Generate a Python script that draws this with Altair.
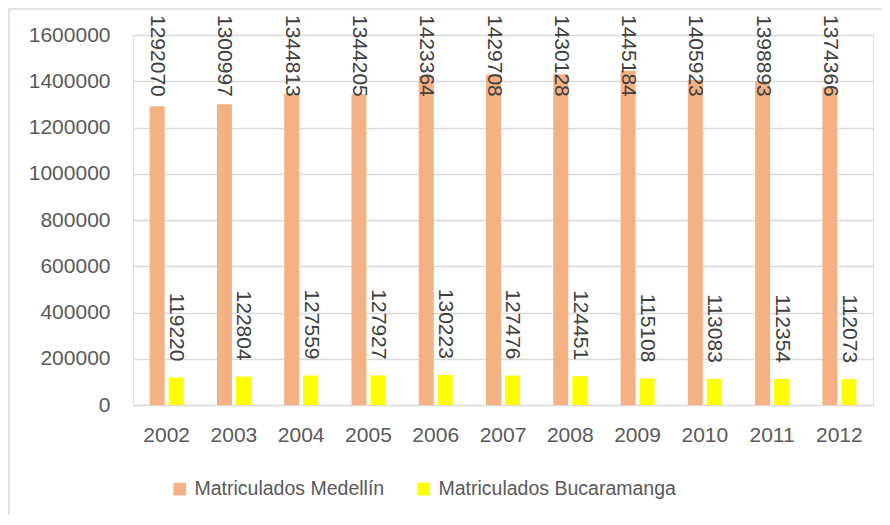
import altair as alt
import pandas as pd

years = ["2002", "2003", "2004", "2005", "2006", "2007", "2008", "2009", "2010", "2011", "2012"]
series_names = ["Matriculados Medellín", "Matriculados Bucaramanga"]
medellin = [1292070, 1300997, 1344813, 1344205, 1423364, 1429708, 1430128, 1445184, 1405923, 1398893, 1374366]
bucaramanga = [119220, 122804, 127559, 127927, 130223, 127476, 124451, 115108, 113083, 112354, 112073]
colors = ["#F4B183", "#FFFF00"]
y_ticks = [0, 200000, 400000, 600000, 800000, 1000000, 1200000, 1400000, 1600000]

rows = []
for i, y in enumerate(years):
    rows.append({"year": y, "series": series_names[0], "value": medellin[i]})
    rows.append({"year": y, "series": series_names[1], "value": bucaramanga[i]})
df = pd.DataFrame(rows)

FONT = "Liberation Sans"
W, H = 740, 370
PAD = {"left": 125, "top": 27, "right": 9, "bottom": 110}

x_enc = alt.X("year:N", sort=years, title=None,
              scale=alt.Scale(paddingInner=0.495, paddingOuter=0.2475),
              axis=alt.Axis(labelAngle=0, labelFontSize=21, labelColor="#595959",
                            labelFont=FONT, labelPadding=19, ticks=False, domain=False))
xoff_enc = alt.XOffset("series:N", sort=series_names,
                       scale=alt.Scale(domain=series_names, paddingInner=0.21))

bars = alt.Chart(df).mark_bar().encode(
    x=x_enc,
    xOffset=xoff_enc,
    y=alt.Y("value:Q", title=None,
            scale=alt.Scale(domain=[0, 1600000], nice=False),
            axis=alt.Axis(values=y_ticks, format="d", labelFontSize=21, labelColor="#595959",
                          labelFont=FONT, labelPadding=23, ticks=False, domain=False,
                          gridColor="#d9d9d9", gridWidth=1.3)),
    color=alt.Color("series:N", sort=series_names,
                    scale=alt.Scale(domain=series_names, range=colors),
                    legend=alt.Legend(title=None, orient="none", direction="horizontal",
                                      legendX=37, legendY=444, symbolType="square",
                                      symbolSize=160, symbolStrokeWidth=0,
                                      labelFontSize=19.5, labelFont=FONT, labelColor="#595959",
                                      labelOffset=5, columnPadding=29, padding=0,
                                      labelLimit=400)),
)

lab_med = alt.Chart(df).transform_filter(
    alt.datum.series == series_names[0]
).mark_text(angle=90, align="left", baseline="middle", fontSize=21, font=FONT,
            color="#404040").encode(
    x=alt.X("year:N", sort=years),
    xOffset=alt.XOffset("series:N", sort=series_names),
    y=alt.value(-20),
    text=alt.Text("value:Q", format="d"),
)

lab_buc = alt.Chart(df).transform_filter(
    alt.datum.series == series_names[1]
).mark_text(angle=90, align="right", baseline="middle", fontSize=21, font=FONT,
            color="#404040", dx=-16).encode(
    x=alt.X("year:N", sort=years),
    xOffset=alt.XOffset("series:N", sort=series_names),
    y=alt.Y("value:Q"),
    text=alt.Text("value:Q", format="d"),
)

frame = alt.Chart(pd.DataFrame({"a": [0]})).mark_rect(
    fill=None, stroke="#d9d9d9", strokeWidth=1.5
).encode(
    x=alt.value(-PAD["left"] + 1),
    x2=alt.value(W + PAD["right"] + 40),
    y=alt.value(-PAD["top"] + 1),
    y2=alt.value(H + PAD["bottom"] + 40),
)

chart = alt.layer(frame, bars, lab_med, lab_buc).properties(
    width=W, height=H, autosize="none", padding=PAD
).configure_view(stroke=None).configure(font=FONT)

chart.save("out.html", embed_options={"renderer": "svg", "actions": False})
